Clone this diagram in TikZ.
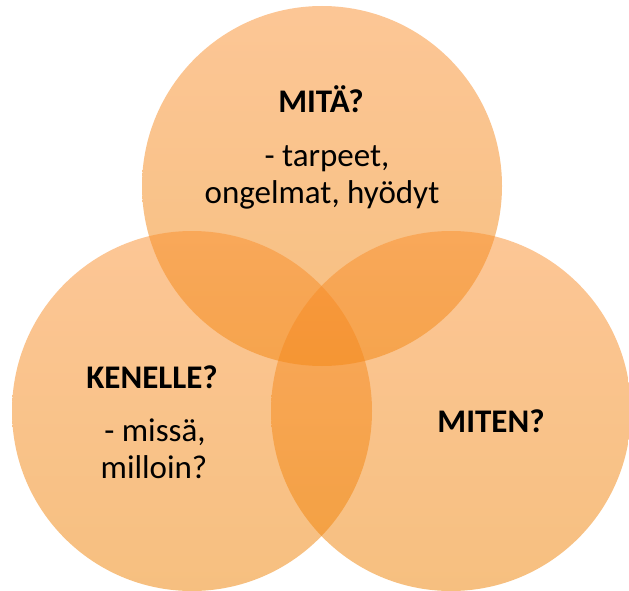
\documentclass[tikz,border=0pt]{standalone}
\usepackage{fontspec}
\setmainfont{Carlito}
\definecolor{vtop}{RGB}{250,142,45}
\definecolor{vbot}{RGB}{238,128,0}
\begin{document}
\begin{tikzpicture}[x=1pt,y=-1pt,
  venn/.style={circle,minimum size=360pt,inner sep=0pt,draw=none,
    top color=vtop,bottom color=vbot,fill opacity=0.5},
  hd/.style={anchor=base,inner sep=0pt,font=\fontsize{33}{36}\selectfont\bfseries},
  bd/.style={anchor=base,inner sep=0pt,font=\fontsize{33}{36}\selectfont}]
\useasboundingbox (0,0) rectangle (629,591);
\node[venn] (ctop) at (322,186) {};
\node[venn] (cleft) at (192,411) {};
\node[venn] (cright) at (451,411) {};
\node[hd] (mita) at (321,113) {MITÄ?};
\node[bd] (tarpeet) at (327,167) {- tarpeet,};
\node[bd] (ongelmat) at (322,203) {ongelmat, hyödyt};
\node[hd] (kenelle) at (152,388) {KENELLE?};
\node[bd] (missa) at (155,441) {- missä,};
\node[bd] (milloin) at (154,478) {milloin?};
\node[hd] (miten) at (491,432) {MITEN?};
\end{tikzpicture}
\end{document}
